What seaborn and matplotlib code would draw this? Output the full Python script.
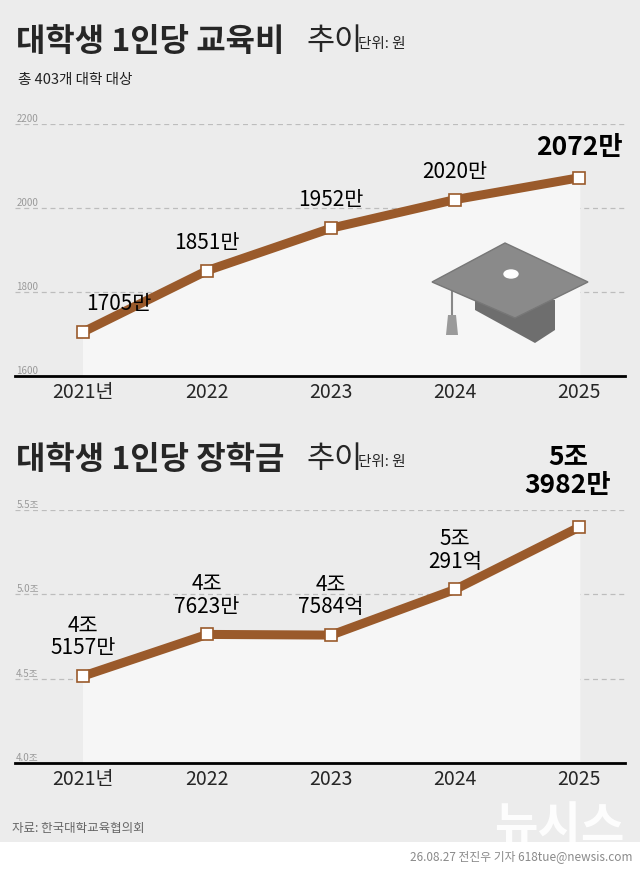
import matplotlib
matplotlib.use("Agg")
import matplotlib.pyplot as plt
import seaborn as sns
import numpy as np
from matplotlib.patches import Polygon, Ellipse, Rectangle

sns.set_theme(style="white")
plt.rcParams['font.family'] = ['Noto Sans CJK KR', 'DejaVu Sans']

years = ["2021년", "2022", "2023", "2024", "2025"]
tuition = [1705, 1851, 1952, 2020, 2072]
tuition_labels = ["1705만", "1851만", "1952만", "2020만", "2072만"]
scholar = [4.5157, 4.7623, 4.7584, 5.0291, 5.3982]
scholar_labels = ["4조\n5157만", "4조\n7623만", "4조\n7584억", "5조\n291억", "5조\n3982만"]
top_ticks = [1600, 1800, 2000, 2200]
bot_ticks = [4.0, 4.5, 5.0, 5.5]
bot_tick_labels = ["4.0조", "4.5조", "5.0조", "5.5조"]

BG = "#ececec"
LINE = "#9a5a2b"
fig = plt.figure(figsize=(6.4, 8.72), dpi=100, facecolor=BG)
fig.patches.append(Rectangle((0, 0), 1, 30 / 872, transform=fig.transFigure,
                             facecolor="white", edgecolor="none", zorder=0))

def H(px):
    return 1 - px / 872

def panel(bottom_px, top_px, vals, ticks, ticklabels, ylo, yhi):
    ax = fig.add_axes([15 / 640, H(bottom_px), 610 / 640, H(top_px) - H(bottom_px)])
    ax.set_facecolor("none")
    x = np.arange(len(vals))
    ax.set_xlim(-0.55, 4.37)
    ax.set_ylim(ylo, yhi)
    ax.fill_between(x, vals, ylo, color="#f6f6f6", zorder=1)
    for t in ticks[1:]:
        ax.axhline(t, color="#bdbdbd", lw=0.9, ls=(0, (4, 3)), zorder=0)
    for t, lab in zip(ticks, ticklabels):
        ax.text(-0.54, t, lab, fontsize=7, color="#9a9a9a", va="bottom", ha="left",
                family=["Liberation Sans Narrow", "Noto Sans CJK KR"])
    sns.lineplot(x=x, y=vals, ax=ax, color=LINE, lw=6.5, zorder=3,
                 marker="s", markersize=8, markerfacecolor="white",
                 markeredgecolor=LINE, markeredgewidth=1.2)
    for s in ["top", "right", "left"]:
        ax.spines[s].set_visible(False)
    ax.spines["bottom"].set_color("black")
    ax.spines["bottom"].set_linewidth(2)
    ax.set_yticks([])
    ax.set_xticks(x)
    ax.set_xticklabels(years, fontsize=14)
    ax.tick_params(axis="x", direction="in", length=14, width=1.5, color="black", pad=4)
    return ax, x

# ---- top chart
ax1, x = panel(376, 124, tuition, top_ticks, [str(t) for t in top_ticks], 1600, 2200)
for i, (v, lab) in enumerate(zip(tuition, tuition_labels)):
    last = i == len(tuition) - 1
    dx = 26 if i == 0 else 0
    ax1.annotate(lab, (i, v), xytext=(dx, 12), textcoords="offset points",
                 ha="center", va="bottom", fontsize=19 if last else 15,
                 fontweight="bold" if last else "normal", color="black", zorder=5,
                 annotation_clip=False)

# graduation cap (decoration)
cap = dict(transform=fig.transFigure, zorder=2)
fig.patches.append(Polygon([(475/640, H(310)), (535/640, H(343)), (555/640, H(330)), (555/640, H(300)), (475/640, H(300))],
                           closed=True, facecolor="#6e6e6e", edgecolor="none", **cap))
fig.patches.append(Polygon([(432/640, H(282)), (505/640, H(243)), (588/640, H(282)), (515/640, H(318))],
                           closed=True, facecolor="#8a8a8a", edgecolor="#777777", **cap))
fig.patches.append(Ellipse((511/640, H(274)), 14/640, 8/872, facecolor="white", **cap))
fig.lines.append(plt.Line2D([452/640, 452/640], [H(290), H(315)], transform=fig.transFigure, color="#888", lw=1.5))
fig.patches.append(Polygon([(448/640, H(315)), (456/640, H(315)), (458/640, H(335)), (446/640, H(335))],
                           closed=True, facecolor="#9a9a9a", edgecolor="none", **cap))

# ---- bottom chart
ax2, x = panel(763, 510, scholar, bot_ticks, bot_tick_labels, 4.0, 5.5)
for i, (v, lab) in enumerate(zip(scholar, scholar_labels)):
    last = i == len(scholar) - 1
    ax2.annotate(lab, (i, v), xytext=(-8 if last else 0, 12 if not last else 20), textcoords="offset points",
                 ha="center", va="bottom", fontsize=19 if last else 15,
                 fontweight="bold" if last else "normal", color="black", zorder=5,
                 linespacing=1.05, annotation_clip=False)

# ---- titles
fig.text(16/640, H(42), "대학생 1인당 교육비", fontsize=23, fontweight="bold", va="center")
fig.text(306/640, H(42), "추이", fontsize=22, va="center")
fig.text(358/640, H(44), "단위: 원", fontsize=10.5, va="center")
fig.text(18/640, H(80), "총 403개 대학 대상", fontsize=10.5, va="center", color="#222")
fig.text(16/640, H(460), "대학생 1인당 장학금", fontsize=23, fontweight="bold", va="center")
fig.text(306/640, H(460), "추이", fontsize=22, va="center")
fig.text(358/640, H(462), "단위: 원", fontsize=10.5, va="center")

fig.text(12/640, H(828), "자료: 한국대학교육협의회", fontsize=9, color="#666", va="center")
fig.text(625/640, H(827), "뉴시스", fontsize=34, fontweight="bold", color="white", alpha=0.9,
         ha="right", va="center", zorder=1)
fig.text(632/640, H(857), "26.08.27 전진우 기자 618tue@newsis.com", fontsize=8.5,
         color="#8a8a8a", ha="right", va="center")

fig.savefig("out.png", dpi=100, facecolor=BG)
